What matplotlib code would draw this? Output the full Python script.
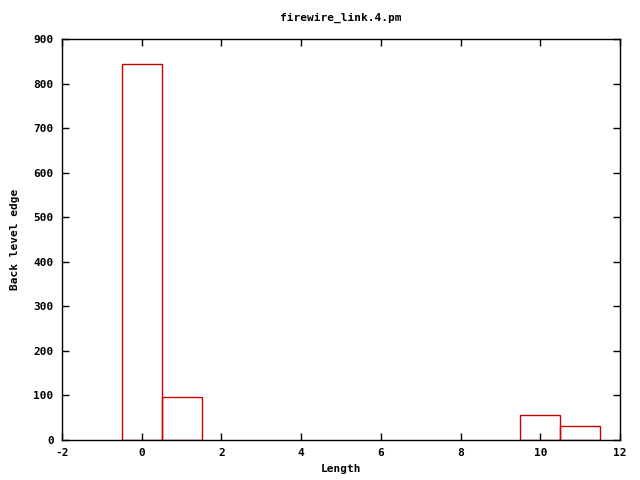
import matplotlib
matplotlib.use("Agg")
import matplotlib.pyplot as plt

# 値
lengths = [0, 1, 10, 11]
counts = [845, 97, 55, 31]

plt.rcParams['font.family'] = 'DejaVu Sans Mono'
plt.rcParams['font.weight'] = 'bold'
plt.rcParams['font.size'] = 8
plt.rcParams['axes.unicode_minus'] = False

fig = plt.figure(figsize=(6.4, 4.8), dpi=100)
ax = fig.add_axes([62 / 640, 40 / 480, 558 / 640, 401 / 480])

ax.bar(lengths, counts, width=1.0, fill=False, edgecolor='#cc0000', linewidth=1.0)

ax.set_xlim(-2, 12)
ax.set_ylim(0, 900)
ax.set_xticks(range(-2, 13, 2))
ax.set_yticks(range(0, 901, 100))
ax.tick_params(direction='in', top=True, right=True, length=5, width=1, pad=6)
for s in ax.spines.values():
    s.set_linewidth(1)

ax.set_title('firewire_link.4.pm', fontsize=8, fontweight='bold', pad=13)
ax.set_xlabel('Length', fontweight='bold', labelpad=4)
ax.set_ylabel('Back level edge', fontweight='bold', labelpad=10)

fig.savefig('out.png', dpi=100)
